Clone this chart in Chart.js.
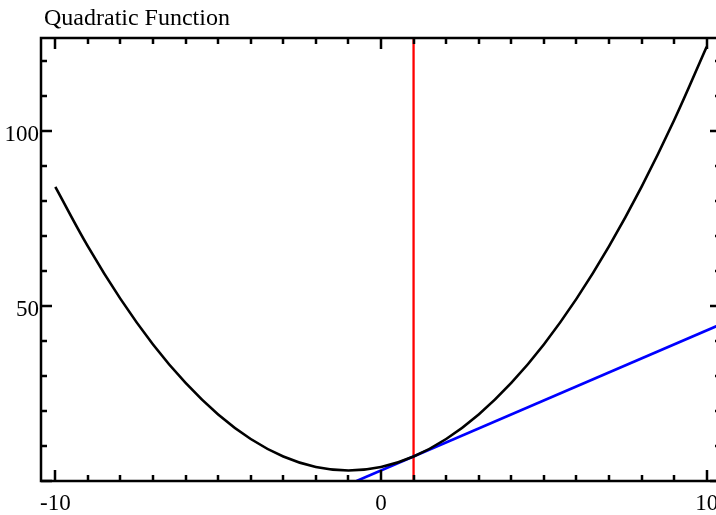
<!DOCTYPE html>
<html>
<head>
<meta charset="utf-8">
<script src="https://cdn.jsdelivr.net/npm/chart.js@4"></script>
<style>
  html, body { margin: 0; padding: 0; background: #fff; overflow: hidden; }
  #wrap { position: relative; width: 740px; height: 515px; }
</style>
</head>
<body>
<div id="wrap"><canvas id="c"></canvas></div>
<script>
// ---- data ----
const chartTitle = "Quadratic Function";
const curveX = [-10, -9, -8, -7, -6, -5, -4, -3, -2, -1, 0, 1, 2, 3, 4, 5, 6, 7, 8, 9, 10];
const curveY = [84, 67, 52, 39, 28, 19, 12, 7, 4, 3, 4, 7, 12, 19, 28, 39, 52, 67, 84, 103, 124];
const tangentX = [-0.75, 10.5];
const tangentY = [0, 45];
const markerX = [1, 1];
const markerY = [0, 126.5];
const xRange = [-10.44, 10.44];
const yRange = [0, 126.5];
const xLabelTicks = [-10, 0, 10];
const yLabelTicks = [50, 100];
const xMinorTicks = [-10, -9, -8, -7, -6, -5, -4, -3, -2, -1, 0, 1, 2, 3, 4, 5, 6, 7, 8, 9, 10];
const yMinorTicks = [0, 10, 20, 30, 40, 50, 60, 70, 80, 90, 100, 110, 120];
const yMajorTicks = [0, 50, 100];

const toPts = (xs, ys) => xs.map((x, i) => ({ x: x, y: ys[i] }));

const FONT = '"Liberation Serif", "Times New Roman", serif';

const framePlugin = {
  id: 'frame',
  afterDraw(chart) {
    const ctx = chart.ctx;
    const a = chart.chartArea;
    const xs = chart.scales.x, ys = chart.scales.y;
    ctx.save();
    ctx.strokeStyle = '#000';
    ctx.lineWidth = 2.5;
    ctx.lineCap = 'butt';
    ctx.strokeRect(a.left, a.top, a.right - a.left, a.bottom - a.top);
    ctx.beginPath();
    const MAJ = 11, MIN = 6;
    xMinorTicks.forEach(v => {
      const px = Math.round(xs.getPixelForValue(v));
      const len = xLabelTicks.includes(v) ? MAJ : MIN;
      ctx.moveTo(px, a.bottom); ctx.lineTo(px, a.bottom - len);
      ctx.moveTo(px, a.top); ctx.lineTo(px, a.top + len);
    });
    yMinorTicks.forEach(v => {
      const py = Math.round(ys.getPixelForValue(v));
      const len = yMajorTicks.includes(v) ? MAJ : MIN;
      ctx.moveTo(a.left, py); ctx.lineTo(a.left + len, py);
      ctx.moveTo(a.right, py); ctx.lineTo(a.right - len, py);
    });
    ctx.stroke();

    ctx.fillStyle = '#000';
    ctx.font = '23px ' + FONT;
    ctx.textBaseline = 'alphabetic';
    ctx.textAlign = 'center';
    xLabelTicks.forEach(v => {
      ctx.fillText(String(v), xs.getPixelForValue(v), a.bottom + 29);
    });
    ctx.textAlign = 'right';
    yLabelTicks.forEach(v => {
      ctx.fillText(String(v), a.left - 2, ys.getPixelForValue(v) + 10);
    });
    ctx.textAlign = 'left';
    ctx.font = '24px ' + FONT;
    ctx.fillText(chartTitle, 44, 25);
    ctx.restore();
  }
};

new Chart(document.getElementById('c'), {
  type: 'scatter',
  data: {
    datasets: [
      {
        label: 'curve',
        data: toPts(curveX, curveY),
        showLine: true,
        borderColor: '#000',
        borderWidth: 2.6,
        pointRadius: 0,
        tension: 0.4,
        fill: false
      },
      {
        label: 'tangent',
        data: toPts(tangentX, tangentY),
        showLine: true,
        borderColor: '#0000ff',
        borderWidth: 2.6,
        pointRadius: 0,
        fill: false
      },
      {
        label: 'marker',
        data: toPts(markerX, markerY),
        showLine: true,
        borderColor: '#ff0000',
        borderWidth: 2.3,
        pointRadius: 0,
        fill: false
      }
    ]
  },
  options: {
    responsive: true,
    maintainAspectRatio: false,
    animation: false,
    devicePixelRatio: 1,
    layout: { padding: { left: 41, top: 38, right: 19, bottom: 34 } },
    plugins: {
      legend: { display: false },
      tooltip: { enabled: false },
      title: { display: false }
    },
    scales: {
      x: { type: 'linear', min: xRange[0], max: xRange[1], display: false },
      y: { type: 'linear', min: yRange[0], max: yRange[1], display: false }
    }
  },
  plugins: [framePlugin]
});
</script>
</body>
</html>
